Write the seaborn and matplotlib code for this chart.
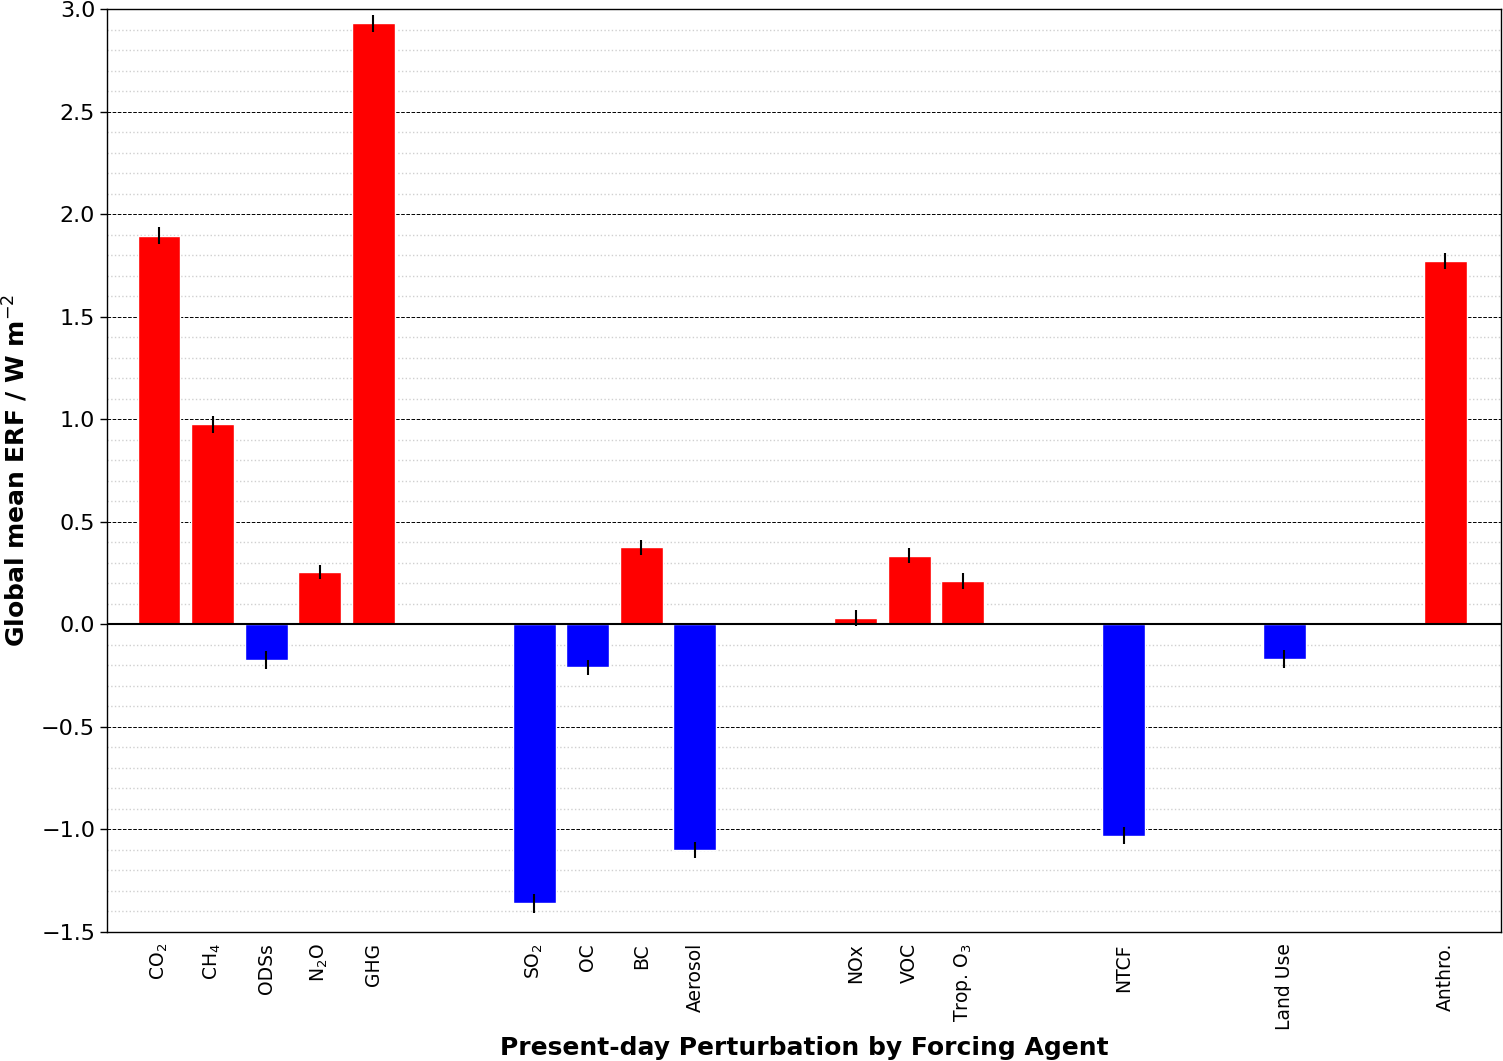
import matplotlib
matplotlib.use("Agg")
import matplotlib.pyplot as plt
import seaborn as sns
import pandas as pd
import numpy as np

labels = ["CO$_2$", "CH$_4$", "ODSs", "N$_2$O", "GHG",
          "SO$_2$", "OC", "BC", "Aerosol",
          "NOx", "VOC", "Trop. O$_3$",
          "NTCF", "Land Use", "Anthro."]
positions = [0, 1, 2, 3, 4, 7, 8, 9, 10, 13, 14, 15, 18, 21, 24]
values = [1.895, 0.975, -0.175, 0.255, 2.93,
          -1.36, -0.21, 0.375, -1.10,
          0.03, 0.335, 0.21,
          -1.03, -0.17, 1.77]
errors = [0.04, 0.04, 0.045, 0.035, 0.04,
          0.045, 0.035, 0.035, 0.04,
          0.04, 0.035, 0.04,
          0.04, 0.045, 0.04]

df = pd.DataFrame({"pos": positions, "val": values, "label": labels})
df["sign"] = np.where(df["val"] >= 0, "pos", "neg")

sns.set_style("white", rc={"text.color": "black", "axes.labelcolor": "black",
                           "xtick.color": "black", "ytick.color": "black",
                           "axes.edgecolor": "black"})
plt.rcParams["font.family"] = ["DejaVu Sans"]

fig = plt.figure(figsize=(15.03, 10.61), dpi=100)
ax = fig.add_axes([107/1503, 1 - 932/1061, (1501-107)/1503, (932-9)/1061])

sns.barplot(data=df, x="pos", y="val", hue="sign", native_scale=True,
            palette={"pos": "red", "neg": "blue"}, width=0.8,
            dodge=False, legend=False, ax=ax, zorder=3, errorbar=None,
            saturation=1)
ax.errorbar(positions, values, yerr=errors, fmt="none", ecolor="black",
            elinewidth=1.5, zorder=4)

ax.set_xlim(-0.97, 25.04)
ax.set_ylim(-1.5, 3.0)
ax.set_yticks(np.arange(-1.5, 3.01, 0.5))
ax.set_yticks(np.arange(-1.5, 3.01, 0.1), minor=True)
ax.set_yticklabels([f"{v:.1f}".replace("-", "\u2212") for v in np.arange(-1.5, 3.01, 0.5)],
                   fontsize=16)
ax.set_xticks(positions)
ax.set_xticklabels(labels, rotation=90, fontsize=13.5)
ax.tick_params(axis="x", length=0, pad=8)
ax.tick_params(axis="y", which="major", length=5, width=1, left=True, direction="out")
ax.tick_params(axis="y", which="minor", length=0)

ax.grid(axis="y", which="major", color="black", linestyle="--", linewidth=0.7, zorder=0)
ax.grid(axis="y", which="minor", color="#d0d0d0", linestyle=":", linewidth=1.0, zorder=0)
ax.grid(axis="x", visible=False)
ax.set_axisbelow(True)
ax.axhline(0, color="black", linewidth=1.5, zorder=5)

for s in ax.spines.values():
    s.set_visible(True)
    s.set_color("black")
    s.set_linewidth(1.0)

ax.set_xlabel("Present-day Perturbation by Forcing Agent", fontsize=18, fontweight="bold", labelpad=4)
ax.set_ylabel("Global mean ERF / W m$^{-2}$", fontsize=18, fontweight="bold", labelpad=8)

fig.savefig("out.png", dpi=100)
